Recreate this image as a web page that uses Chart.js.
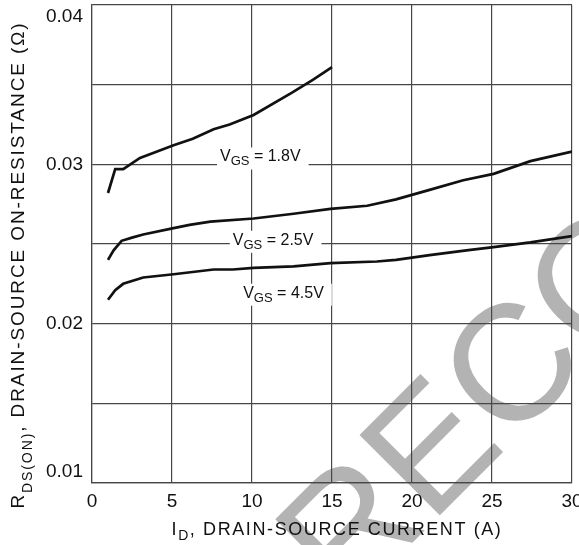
<!DOCTYPE html>
<html>
<head>
<meta charset="utf-8">
<script src="https://cdn.jsdelivr.net/npm/chart.js@4.4.0/dist/chart.umd.min.js"></script>
<style>
  html, body { margin: 0; padding: 0; background: #fff; overflow: hidden; }
  #wrap { width: 579px; height: 545px; position: relative; }
</style>
</head>
<body>
<div id="wrap"><canvas id="rdsChart"></canvas></div>
<script>
  var FONT = "'Liberation Sans', Arial, Helvetica, sans-serif";
  var GRID = '#474747';

  // I_D (A) vs R_DS(on) (ohm)
  var idVgs18  = [1.0, 1.45, 1.95, 3.0, 5.1, 6.3, 7.6, 8.6, 10.1, 12.5, 13.8, 15.0];
  var rdsVgs18 = [0.0282, 0.0297, 0.0297, 0.0304, 0.0312, 0.0316, 0.0322, 0.0325, 0.0331, 0.0345, 0.0353, 0.0361];

  var idVgs25  = [1.0, 1.35, 1.85, 2.5, 3.2, 5.1, 6.1, 7.4, 10.1, 12.6, 14.9, 17.2, 19.0, 21.1, 23.2, 25.1, 27.4, 30.0];
  var rdsVgs25 = [0.0240, 0.0246, 0.0252, 0.0254, 0.0256, 0.0260, 0.0262, 0.0264, 0.0266, 0.0269, 0.0272, 0.0274, 0.0278, 0.0284, 0.0290, 0.0294, 0.0302, 0.0308];

  var idVgs45  = [1.0, 1.45, 1.95, 3.2, 5.1, 7.6, 8.8, 10.1, 12.6, 14.9, 17.8, 19.0, 21.1, 23.4, 25.1, 27.4, 30.0];
  var rdsVgs45 = [0.0215, 0.0221, 0.0225, 0.0229, 0.0231, 0.0234, 0.0234, 0.0235, 0.0236, 0.0238, 0.0239, 0.0240, 0.0243, 0.0246, 0.0248, 0.0251, 0.0255];

  // curve labels: V_GS value and where the text sits (data units, left edge / baseline)
  var vgsNames  = ['1.8V', '2.5V', '4.5V'];
  var vgsLabelX = [8.0, 8.8, 9.45];
  var vgsLabelY = [0.03018, 0.02495, 0.02163];

  var yLabelTicks = [0.01, 0.02, 0.03, 0.04];

  function toPoints(xs, ys) {
    return xs.map(function (x, i) { return { x: x, y: ys[i] }; });
  }

  function curve(xs, ys) {
    return {
      data: toPoints(xs, ys),
      borderColor: '#111',
      borderWidth: 2.7,
      pointRadius: 0,
      tension: 0,
      fill: false
    };
  }

  // text made of pieces (for subscripts)
  function partsWidth(ctx, parts) {
    var w = 0;
    parts.forEach(function (p) {
      ctx.font = p.size + 'px ' + FONT;
      w += ctx.measureText(p.t).width;
    });
    return w;
  }
  function drawParts(ctx, parts, x, y) {
    parts.forEach(function (p) {
      ctx.font = p.size + 'px ' + FONT;
      ctx.fillText(p.t, x, y + p.dy);
      x += ctx.measureText(p.t).width;
    });
  }

  var watermark = {
    id: 'watermark',
    beforeDraw: function (chart) {
      var ctx = chart.ctx;
      ctx.save();
      ctx.translate(346, 609);
      ctx.rotate(-Math.PI / 4);
      ctx.font = '165px ' + FONT;
      ctx.fillStyle = '#b3b3b3';
      ctx.textBaseline = 'alphabetic';
      ctx.fillText('RECOMMENDED', 0, 0);
      ctx.restore();
    }
  };

  var curveLabels = {
    id: 'curveLabels',
    afterDatasetsDraw: function (chart) {
      var ctx = chart.ctx;
      var xs = chart.scales.x, ys = chart.scales.y;
      ctx.save();
      ctx.textBaseline = 'alphabetic';
      vgsNames.forEach(function (name, i) {
        var parts = [
          { t: 'V', size: 16, dy: 0 },
          { t: 'GS', size: 13, dy: 4 },
          { t: ' = ' + name, size: 16, dy: 0 }
        ];
        var px = xs.getPixelForValue(vgsLabelX[i]);
        var py = ys.getPixelForValue(vgsLabelY[i]);
        var w = partsWidth(ctx, parts);
        ctx.fillStyle = '#fff';
        ctx.fillRect(px - 3, py - 14, w + 11, 22);
        ctx.fillStyle = '#111';
        drawParts(ctx, parts, px, py);
      });
      ctx.restore();
    }
  };

  var axisTitles = {
    id: 'axisTitles',
    afterDraw: function (chart) {
      var ctx = chart.ctx;
      ctx.save();
      ctx.fillStyle = '#111';
      ctx.textBaseline = 'alphabetic';

      // x title
      ctx.letterSpacing = '1.6px';
      var xParts = [
        { t: 'I', size: 18, dy: 0 },
        { t: 'D', size: 14, dy: 5 },
        { t: ', DRAIN-SOURCE CURRENT (A)', size: 18, dy: 0 }
      ];
      var xw = partsWidth(ctx, xParts);
      drawParts(ctx, xParts, 337 - xw / 2, 535);

      // y title
      ctx.letterSpacing = '1.9px';
      var yParts = [
        { t: 'R', size: 19, dy: 0 },
        { t: 'DS(ON)', size: 14, dy: 8 },
        { t: ', DRAIN-SOURCE ON-RESISTANCE (\u03A9)', size: 19, dy: 0 }
      ];
      var yw = partsWidth(ctx, yParts);
      ctx.translate(24, 265);
      ctx.rotate(-Math.PI / 2);
      drawParts(ctx, yParts, -yw / 2, 0);
      ctx.restore();
    }
  };

  var ctx = document.getElementById('rdsChart').getContext('2d');
  var rdsChart = new Chart(ctx, {
    type: 'line',
    data: {
      datasets: [
        curve(idVgs18, rdsVgs18),
        curve(idVgs25, rdsVgs25),
        curve(idVgs45, rdsVgs45)
      ]
    },
    options: {
      responsive: true,
      maintainAspectRatio: false,
      animation: false,
      layout: { padding: { top: 5, right: 7, left: 0, bottom: 0 } },
      plugins: {
        legend: { display: false },
        tooltip: { enabled: false }
      },
      scales: {
        x: {
          type: 'linear',
          min: 0,
          max: 30,
          ticks: {
            stepSize: 5,
            padding: 7,
            maxRotation: 0,
            autoSkip: false,
            color: '#111',
            font: { family: FONT, size: 19 }
          },
          grid: { color: GRID, lineWidth: 1.2, drawTicks: false },
          border: { color: GRID, width: 1.2 },
          afterFit: function (s) {
            s.height = 62;
            s.paddingLeft = 0;
            s.paddingRight = 0;
          }
        },
        y: {
          type: 'linear',
          min: 0.01,
          max: 0.04,
          ticks: {
            stepSize: 0.005,
            padding: 9,
            color: '#111',
            font: { family: FONT, size: 19 },
            callback: function (v) {
              for (var i = 0; i < yLabelTicks.length; i++) {
                if (Math.abs(v - yLabelTicks[i]) < 1e-9) {
                  var t = v.toFixed(2);
                  if (i === yLabelTicks.length - 1) return ['', t];
                  if (i === 0) return [t, ''];
                  return t;
                }
              }
              return '';
            }
          },
          grid: { color: GRID, lineWidth: 1.2, drawTicks: false },
          border: { color: GRID, width: 1.2 },
          afterFit: function (s) {
            s.width = 92;
            s.paddingTop = 0;
            s.paddingBottom = 0;
          }
        }
      }
    },
    plugins: [watermark, curveLabels, axisTitles]
  });
</script>
</body>
</html>
